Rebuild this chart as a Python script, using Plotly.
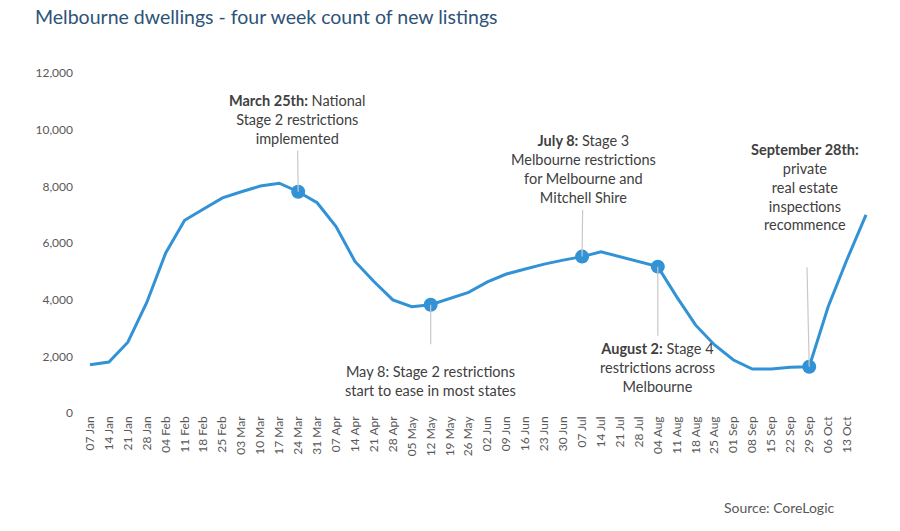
import plotly.graph_objects as go
import pandas as pd

# ---- data ----
start_week = "2020-01-07"
listings = [1700, 1800, 2500, 3900, 5650, 6800, 7200, 7590, 7810, 8010,
            8110, 7810, 7420, 6580, 5350, 4640, 3990, 3750, 3820, 4030,
            4260, 4630, 4905, 5080, 5255, 5395, 5520, 5690, 5510, 5350,
            5165, 4100, 3100, 2400, 1870, 1553, 1553, 1613, 1634, 3750,
            5425, 6990]
tick_labels = ["07 Jan", "14 Jan", "21 Jan", "28 Jan", "04 Feb", "11 Feb", "18 Feb",
               "25 Feb", "03 Mar", "10 Mar", "17 Mar", "24 Mar", "31 Mar", "07 Apr",
               "14 Apr", "21 Apr", "28 Apr", "05 May", "12 May", "19 May", "26 May",
               "02 Jun", "09 Jun", "16 Jun", "23 Jun", "30 Jun", "07 Jul", "14 Jul",
               "21 Jul", "28 Jul", "04 Aug", "11 Aug", "18 Aug", "25 Aug", "01 Sep",
               "08 Sep", "15 Sep", "22 Sep", "29 Sep", "06 Oct", "13 Oct"]
y_ticks = [0, 2000, 4000, 6000, 8000, 10000, 12000]
event_weeks = ["2020-03-24", "2020-05-12", "2020-07-07", "2020-08-04", "2020-09-29"]
event_texts = [
    "<b>March 25th:</b> National<br>Stage 2 restrictions<br>implemented",
    "May 8: Stage 2 restrictions<br>start to ease in most states",
    "<b>July 8:</b> Stage 3<br>Melbourne restrictions<br>for Melbourne and<br>Mitchell Shire",
    "<b>August 2:</b> Stage 4<br>restrictions across<br>Melbourne",
    "<b>September 28th:</b><br>private<br>real estate<br>inspections<br>recommence",
]

weeks = pd.date_range(start_week, periods=len(listings), freq="7D")
series = pd.Series(listings, index=weeks)
ev_idx = pd.to_datetime(event_weeks)
ev_vals = [series[d] for d in ev_idx]

LINE = "#3292d6"
FONT = "Lato, 'Open Sans', sans-serif"

fig = go.Figure()
fig.add_trace(go.Scatter(x=weeks, y=listings, mode="lines",
                         line=dict(color=LINE, width=3), hoverinfo="skip"))
fig.add_trace(go.Scatter(x=ev_idx, y=ev_vals, mode="markers",
                         marker=dict(color=LINE, size=14), hoverinfo="skip"))

# annotation placement (pixel offsets from marker)
placements = [
    dict(ax=-1, ay=-72, borderpad=3),
    dict(ax=0, ay=76, borderpad=18),
    dict(ax=1, ay=-88, borderpad=4),
    dict(ax=0, ay=101, borderpad=4),
    dict(ax=-4, ay=-180, borderpad=34),
]
for d, v, t, p in zip(ev_idx, ev_vals, event_texts, placements):
    fig.add_annotation(x=d, y=v, text=t, showarrow=True, arrowhead=0,
                       arrowwidth=1.2, arrowcolor="#c8c8c8", standoff=0,
                       ax=p["ax"], ay=p["ay"], borderpad=p["borderpad"],
                       font=dict(family=FONT, size=14.5, color="#404040"),
                       align="center")

fig.add_annotation(xref="paper", yref="paper", x=(722 - 80) / 800, y=-(508 - 413) / 340,
                   xanchor="left", yanchor="middle", showarrow=False,
                   text="Source: CoreLogic",
                   font=dict(family=FONT, size=14, color="#595959"))

px_per_day = 18.93 / 7
x0 = weeks[0] - pd.Timedelta(days=10 / px_per_day)
x1 = weeks[-1] + pd.Timedelta(days=14 / px_per_day)

fig.update_layout(
    width=900, height=531,
    margin=dict(l=80, r=20, t=73, b=118),
    paper_bgcolor="white", plot_bgcolor="white",
    showlegend=False,
    font=dict(family=FONT, color="#595959"),
    title=dict(text="Melbourne dwellings - four week count of new listings",
               x=35 / 900, xanchor="left", xref="container",
               y=1 - 17 / 531, yanchor="middle", yref="container",
               font=dict(family=FONT, size=19.5, color="#2e5378")),
    xaxis=dict(type="date", range=[x0, x1], tickmode="array", automargin=False,
               tickvals=weeks[:len(tick_labels)], ticktext=tick_labels,
               tickangle=-90, showgrid=False, zeroline=False, showline=False,
               ticks="", tickfont=dict(family=FONT, size=12, color="#595959")),
    yaxis=dict(range=[0, 12000], tickmode="array", tickvals=y_ticks, automargin=False,
               tickformat=",", showgrid=False, zeroline=False, showline=False,
               ticks="", ticklabelstandoff=6,
               tickfont=dict(family=FONT, size=12, color="#595959")),
)

fig.write_html("out.html", config={"displayModeBar": False},
               post_script="document.body.style.margin='0';")
